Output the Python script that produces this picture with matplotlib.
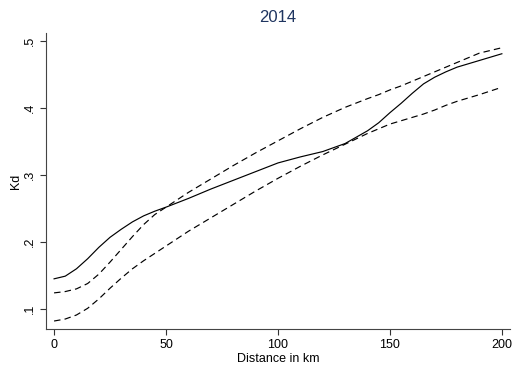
import numpy as np
import matplotlib
matplotlib.use("Agg")
import matplotlib.pyplot as plt

plt.rcParams["font.family"] = ["Liberation Sans", "DejaVu Sans"]

# distance grid (km) and values
distance = [0, 5, 10, 15, 20, 25, 30, 35, 40, 45, 50, 60, 70, 80, 90, 100,
            110, 120, 130, 140, 145, 150, 155, 160, 165, 170, 175, 180, 185, 190, 200]
kd_fit = [0.145, 0.149, 0.160, 0.175, 0.192, 0.207, 0.219, 0.230, 0.239, 0.246, 0.252,
          0.265, 0.279, 0.292, 0.305, 0.318, 0.327, 0.335, 0.347, 0.366, 0.378,
          0.393, 0.407, 0.422, 0.436, 0.446, 0.454, 0.461, 0.466, 0.471, 0.481]
kd_upper = [0.124, 0.126, 0.130, 0.138, 0.152, 0.170, 0.189, 0.208, 0.226, 0.241, 0.252,
            0.274, 0.294, 0.314, 0.333, 0.351, 0.369, 0.386, 0.401, 0.414, 0.420,
            0.427, 0.433, 0.440, 0.447, 0.454, 0.461, 0.468, 0.475, 0.482, 0.490]
kd_lower = [0.082, 0.085, 0.091, 0.101, 0.115, 0.131, 0.146, 0.160, 0.172, 0.183, 0.194,
            0.216, 0.236, 0.256, 0.276, 0.295, 0.313, 0.330, 0.346, 0.362, 0.369,
            0.376, 0.381, 0.386, 0.391, 0.397, 0.404, 0.410, 0.415, 0.420, 0.431]

xticks = [0, 50, 100, 150, 200]
yticks = [0.1, 0.2, 0.3, 0.4, 0.5]
ylabels = [".1", ".2", ".3", ".4", ".5"]

fig = plt.figure(figsize=(5.13, 3.69), dpi=100)
ax = fig.add_axes([0.0897, 0.1084, 0.9043, 0.8022])

ax.plot(distance, kd_fit, color="black", linewidth=0.85)
for band in (kd_upper, kd_lower):
    ln, = ax.plot(distance, band, color="black", linewidth=0.85)
    ln.set_dashes((5.5, 3.5))

ax.set_xlim(-3.6, 203.6)
ax.set_ylim(0.0701, 0.512)
ax.set_xticks(xticks)
ax.set_yticks(yticks)
ax.set_yticklabels(ylabels, rotation=90, va="center")
ax.tick_params(direction="out", length=4, width=0.8, colors="#333333",
               labelsize=9, labelcolor="black")

for side in ("top", "right"):
    ax.spines[side].set_visible(False)
for side in ("left", "bottom"):
    ax.spines[side].set_color("#444444")
    ax.spines[side].set_linewidth(0.8)

ax.set_xlabel("Distance in km", fontsize=9, labelpad=1)
ax.set_ylabel("Kd", fontsize=9, labelpad=1)
ax.set_title("2014", fontsize=12, color="#1f3560", pad=8)

fig.savefig("out.png", dpi=100)
plt.close(fig)
